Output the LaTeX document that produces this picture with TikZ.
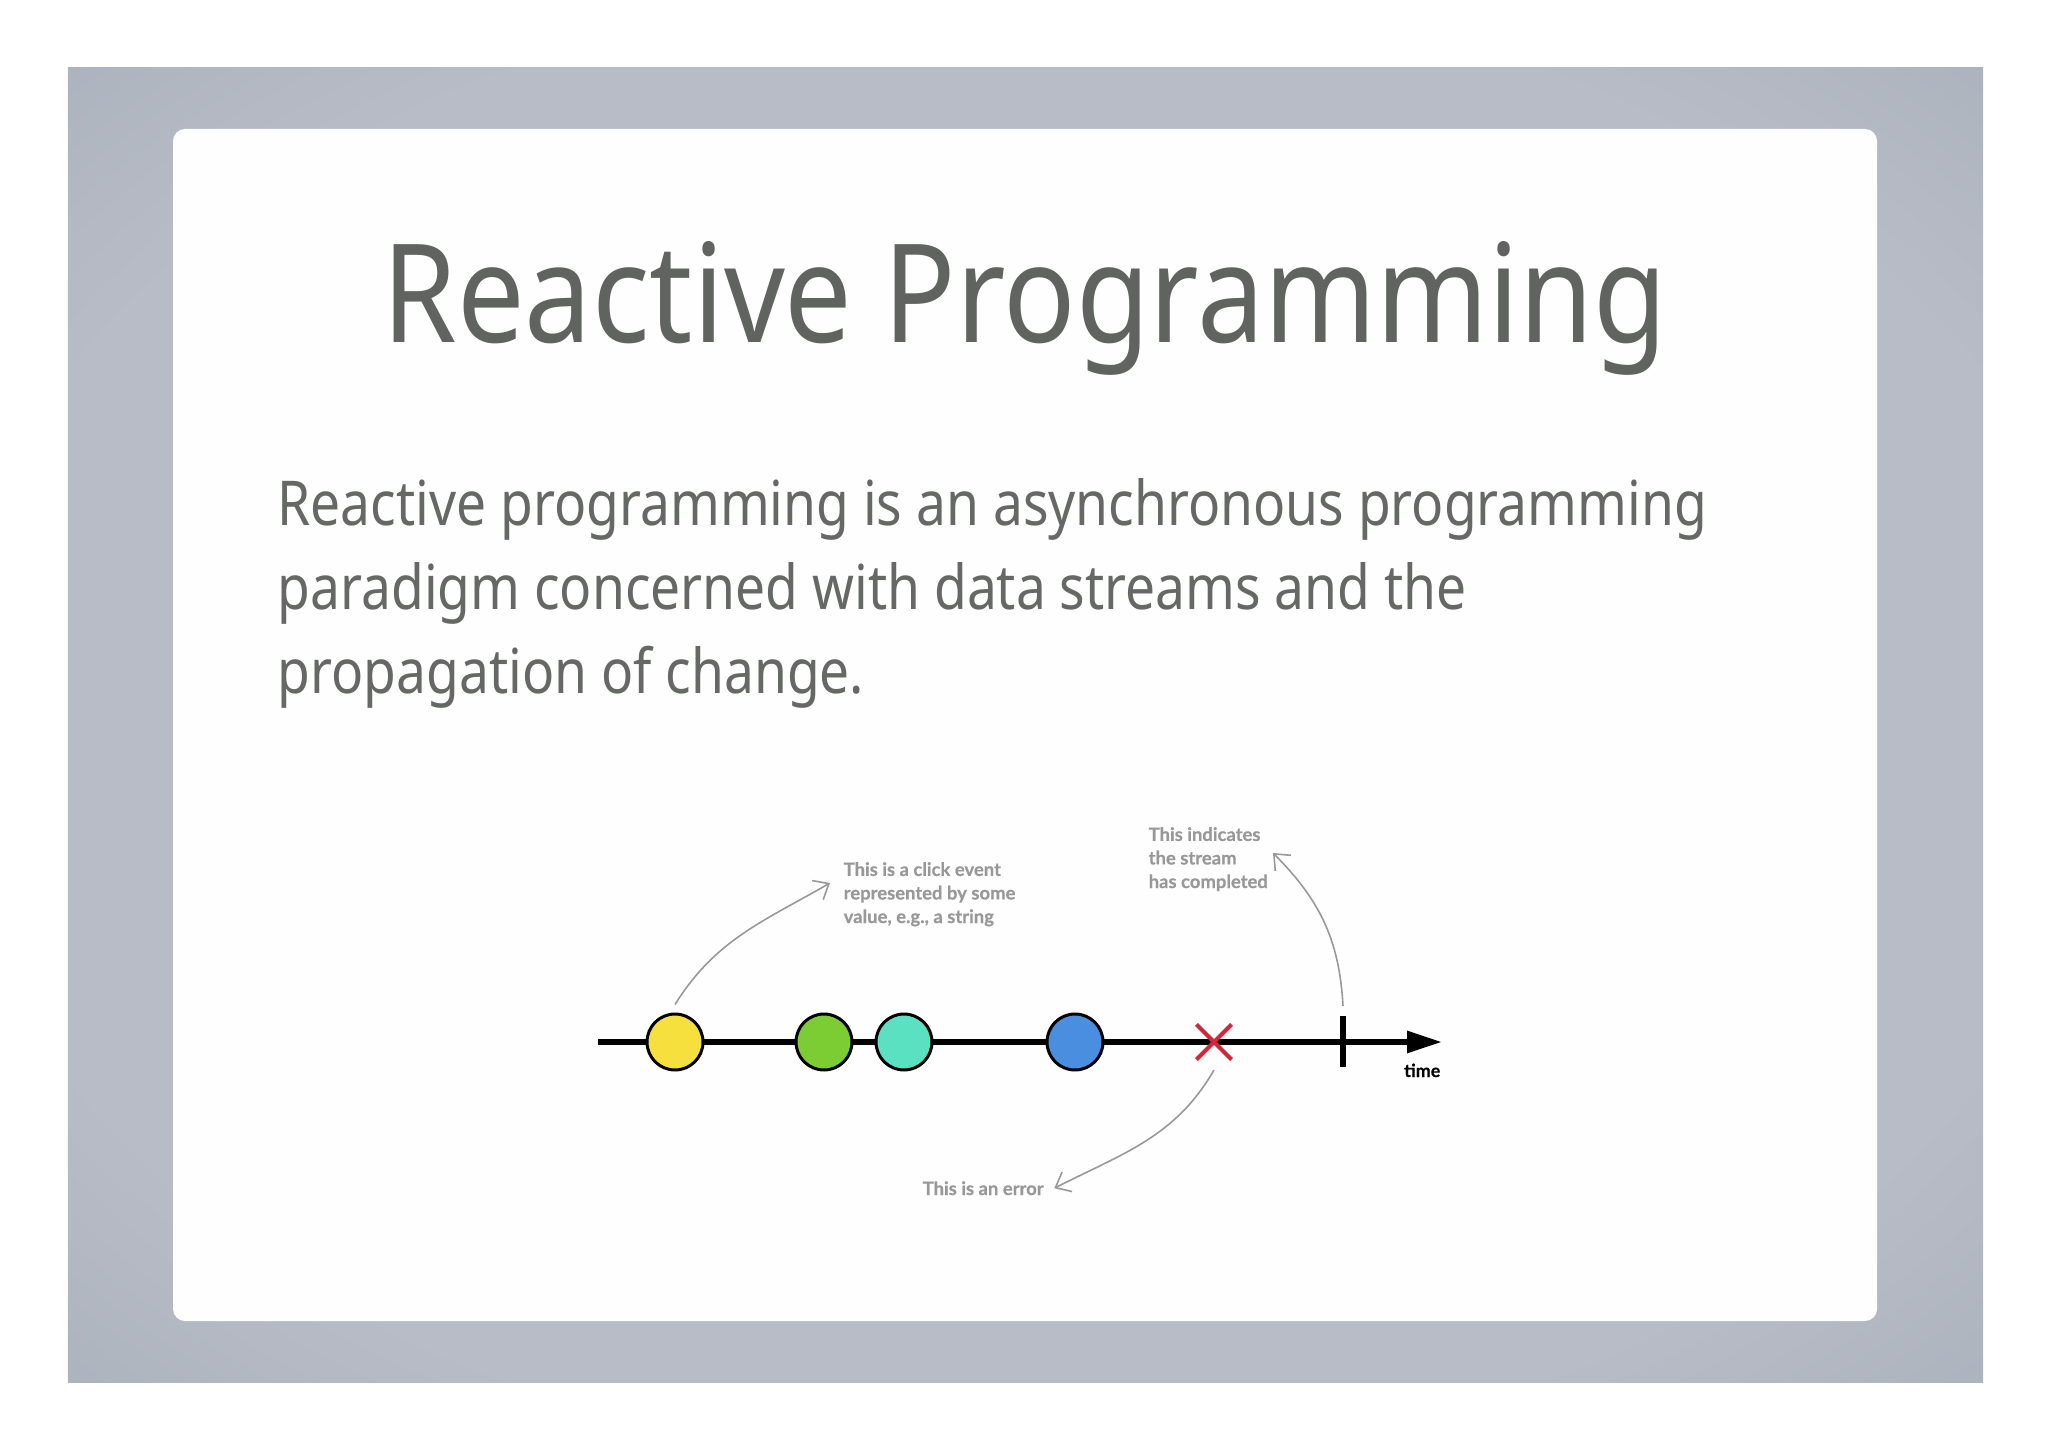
\documentclass[tikz,border=0pt]{standalone}
\usepackage{fontspec}
\setmainfont{Noto Sans}
\newfontfamily\titlefont{Noto Sans}[FakeStretch=0.875]
\newfontfamily\bodyfont{Noto Sans}[FakeStretch=0.862]
\newfontfamily\notefont{Lato}[FakeBold=0.4]
\usetikzlibrary{arrows.meta,shapes.misc}

\definecolor{frameout}{RGB}{152,163,174}
\definecolor{framein}{RGB}{184,188,198}
\definecolor{cardwhite}{RGB}{253,254,253}
\definecolor{titlegray}{RGB}{96,99,96}
\definecolor{bodygray}{RGB}{102,104,102}
\definecolor{notegray}{RGB}{152,152,152}
\definecolor{evyellow}{RGB}{246,224,62}
\definecolor{evgreen}{RGB}{124,204,52}
\definecolor{evteal}{RGB}{90,225,193}
\definecolor{evblue}{RGB}{74,143,223}
\definecolor{errred}{RGB}{210,38,58}
\pgfdeclareradialshading{frameshade}{\pgfpoint{0bp}{0bp}}{color(0bp)=(framein); color(28bp)=(framein); color(50bp)=(frameout)}

\begin{document}
\begin{tikzpicture}[
    every node/.style={inner sep=0pt},
    ev/.style={circle, draw=black, line width=0.85pt, minimum size=0.56cm},
    axis/.style={line width=1.7pt, black},
    note/.style={draw=notegray, line width=0.45pt, -{Straight Barb[length=0.13cm,width=0.22cm]}},
    notetext/.style={font=\notefont\bfseries\fontsize{5.25}{6.7}\selectfont, text=notegray, align=left}
  ]
  \useasboundingbox (0,0) rectangle (20.48,-14.49);
  % slide frame and card
  \shade[shading=frameshade] (0.68,-0.68) rectangle (19.83,-13.82);
  \fill[cardwhite, rounded corners=0.12cm] (1.73,-1.29) rectangle (18.77,-13.21);

  \node[font=\titlefont\fontsize{39}{47}\selectfont, text=titlegray, anchor=base] (title) at (10.25,-3.42) {Reactive Programming};
  \node[font=\bodyfont\fontsize{17.6}{23.8}\selectfont, text=bodygray, align=left, anchor=base west] (body) at (2.77,-6.93)
    {Reactive programming is an asynchronous programming\\paradigm concerned with data streams and the\\propagation of change.};

  % time line
  \coordinate (t0) at (5.98,-10.42);
  \coordinate (t1) at (14.42,-10.42);
  \coordinate (done) at (13.43,-10.42);
  \draw[axis, -{Triangle[length=0.35cm,width=0.21cm]}] (t0) -- (t1);
  \draw[axis] ([yshift=0.26cm]done) -- ([yshift=-0.25cm]done);
  \foreach \x/\c [count=\i] in {6.75/evyellow, 8.24/evgreen, 9.04/evteal, 10.75/evblue}
    \node[ev, fill=\c] (e\i) at (\x,-10.42) {};
  \node[draw=errred, cross out, line width=1.2pt, minimum size=0.31cm] (err) at (12.14,-10.42) {};
  \node[font=\notefont\bfseries\fontsize{5.1}{6}\selectfont, anchor=base east] (timelbl) at (14.41,-10.77) {time};

  % notes
  \node[notetext, anchor=base west] (click) at (8.43,-9.23) {This is a click event\\represented by some\\value, e.g., a string};
  \node[notetext, anchor=base west] (donelbl) at (11.48,-8.88) {This indicates\\the stream\\has completed};
  \node[notetext, anchor=base west] (errlbl) at (9.22,-11.95) {This is an error};

  \draw[note] ([yshift=0.08cm]e1.north) to[out=58, in=210] ([shift={(-0.13,0.40)}]click.base west);
  \draw[note] ([yshift=0.36cm]done) to[out=93, in=-45] ([shift={(1.25,0.35)}]donelbl.base west);
  \draw[note] ([yshift=-0.28cm]err.center) to[out=-120, in=27] ([xshift=0.1cm]errlbl.east);
\end{tikzpicture}
\end{document}
